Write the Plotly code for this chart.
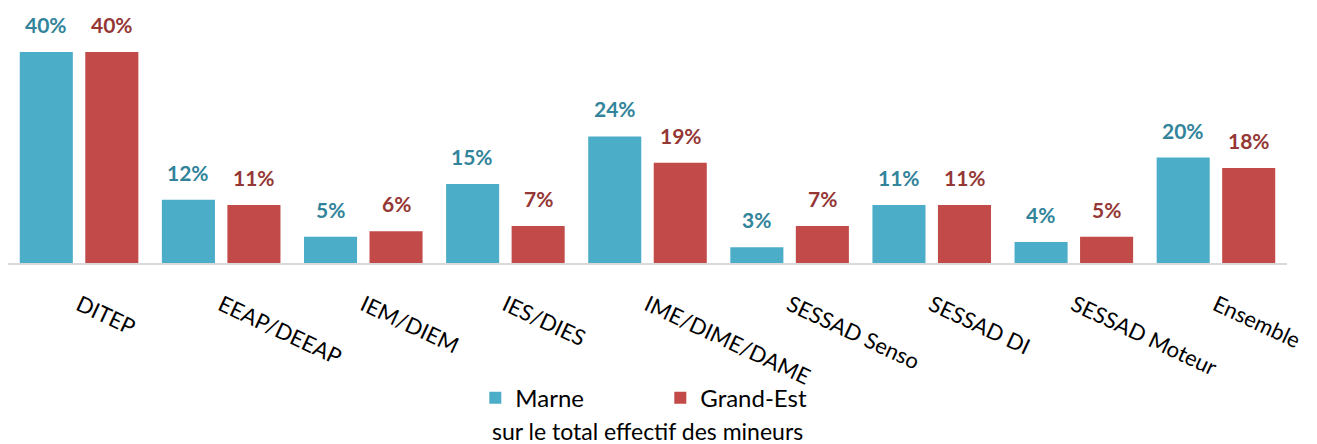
import plotly.graph_objects as go

categories = ["DITEP", "EEAP/DEEAP", "IEM/DIEM", "IES/DIES", "IME/DIME/DAME",
              "SESSAD Senso", "SESSAD DI", "SESSAD Moteur", "Ensemble"]
marne = [0.40, 0.12, 0.05, 0.15, 0.24, 0.03, 0.11, 0.04, 0.20]
grand_est = [0.40, 0.11, 0.06, 0.07, 0.19, 0.07, 0.11, 0.05, 0.18]
marne_labels = ["40%", "12%", "5%", "15%", "24%", "3%", "11%", "4%", "20%"]
ge_labels = ["40%", "11%", "6%", "7%", "19%", "7%", "11%", "5%", "18%"]

FONT = "Lato, Open Sans, sans-serif"
MARNE_BAR = "#4BADC8"
GE_BAR = "#C24B49"
MARNE_TXT = "#31849B"
GE_TXT = "#953735"

fig = go.Figure()
fig.add_trace(go.Bar(name="Marne", x=categories, y=marne,
                     marker=dict(color=MARNE_BAR, line=dict(width=0))))
fig.add_trace(go.Bar(name="Grand-Est", x=categories, y=grand_est,
                     marker=dict(color=GE_BAR, line=dict(width=0))))

annotations = []
for cat, v, lab in zip(categories, marne, marne_labels):
    annotations.append(dict(x=cat, y=v, text=f"<b>{lab}</b>", xref="x", yref="y",
                            xshift=-33, yshift=13, yanchor="bottom", showarrow=False,
                            font=dict(size=21, family=FONT, color=MARNE_TXT)))
for cat, v, lab in zip(categories, grand_est, ge_labels):
    annotations.append(dict(x=cat, y=v, text=f"<b>{lab}</b>", xref="x", yref="y",
                            xshift=33, yshift=13, yanchor="bottom", showarrow=False,
                            font=dict(size=21, family=FONT, color=GE_TXT)))
annotations.append(dict(text="sur le total effectif des mineurs", xref="paper", yref="paper",
                        x=0.5, y=-0.796, xanchor="center", yanchor="middle", showarrow=False,
                        font=dict(size=23, family=FONT, color="black")))

fig.update_layout(
    width=1309, height=436,
    margin=dict(l=0, r=30, t=44, b=181),
    paper_bgcolor="white", plot_bgcolor="white",
    barmode="group", bargap=0.078, bargroupgap=0.19,
    font=dict(family=FONT, color="black"),
    showlegend=True,
    legend=dict(orientation="h", x=0.51, xanchor="center", y=-0.64, yanchor="middle",
                font=dict(size=24, family=FONT), entrywidth=140,
                bgcolor="rgba(0,0,0,0)", tracegroupgap=0),
    annotations=annotations,
)
fig.update_xaxes(showline=True, linecolor="#D9D9D9", linewidth=2, tickangle=25,
                 tickfont=dict(size=22, family=FONT, color="black"),
                 ticks="", ticklabelstandoff=19, showgrid=False)
fig.update_yaxes(range=[0, 0.40], visible=False, showgrid=False)

fig.write_html("out.html")
